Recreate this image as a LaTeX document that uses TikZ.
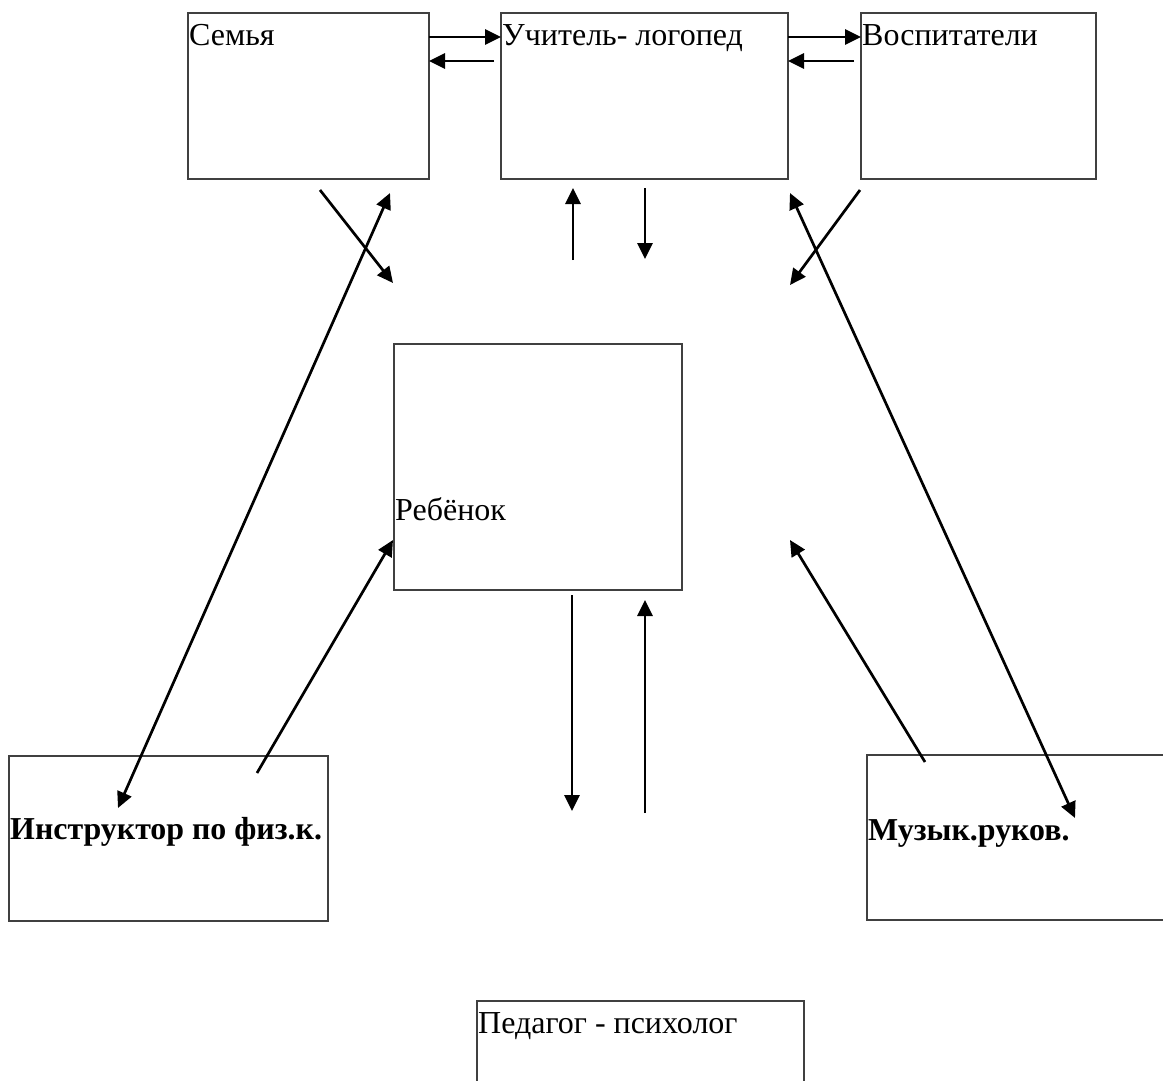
\documentclass[tikz,border=0pt]{standalone}
\usepackage{fontspec}
\setmainfont{Liberation Serif}
\usetikzlibrary{arrows.meta}
\begin{document}
\begin{tikzpicture}[x=1pt,y=-1pt,
  box/.style={draw=black!75,line width=1.2pt,rectangle,anchor=north west,inner sep=0pt,outer sep=0pt},
  lbl/.style={anchor=base west,inner sep=0pt,font=\fontsize{32}{38}\selectfont},
  blbl/.style={lbl,font=\fontsize{31.9}{38}\selectfont\bfseries},
  arr/.style={line width=2.7pt,-{Triangle[length=16pt,width=15pt]}},
  darr/.style={line width=2.7pt,{Triangle[length=16pt,width=15pt]}-{Triangle[length=16pt,width=15pt]}}]
\useasboundingbox (0,0) rectangle (1163,1080);
\clip (0,0) rectangle (1163,1080);
% boxes
\node[box,minimum width=241pt,minimum height=166pt] (fam) at (188,13) {};
\node[box,minimum width=287pt,minimum height=166pt] (log) at (501,13) {};
\node[box,minimum width=235pt,minimum height=166pt] (vos) at (861,13) {};
\node[box,minimum width=288pt,minimum height=246pt] (reb) at (394,344) {};
\node[box,minimum width=319pt,minimum height=165pt] (ins) at (9,756) {};
\node[box,minimum width=320pt,minimum height=165pt] (muz) at (867,755) {};
\node[box,minimum width=327pt,minimum height=120pt] (psy) at (477,1001) {};
% labels
\node[lbl] (tfam) at (189,45) {Семья};
\node[lbl] (tlog) at (502,45) {Учитель- логопед};
\node[lbl] (tvos) at (862,45) {Воспитатели};
\node[lbl] (treb) at (395,520) {Ребёнок};
\node[blbl] (tins) at (10,839) {Инструктор по физ.к.};
\node[blbl] (tmuz) at (868,840) {Музык.руков.};
\node[lbl] (tpsy) at (478,1033) {Педагог - психолог};
% coordinates for free arrows
\coordinate (a1s) at (429,37);  \coordinate (a1e) at (501,37);
\coordinate (a2s) at (494,61);  \coordinate (a2e) at (429,61);
\coordinate (a3s) at (788,37);  \coordinate (a3e) at (861,37);
\coordinate (a4s) at (854,61);  \coordinate (a4e) at (788,61);
\coordinate (b1s) at (320,190); \coordinate (b1e) at (393,283);
\coordinate (b2s) at (118,808); \coordinate (b2e) at (390,193);
\coordinate (b3s) at (257,773); \coordinate (b3e) at (393,540);
\coordinate (c1s) at (573,260); \coordinate (c1e) at (573,188);
\coordinate (c2s) at (645,188); \coordinate (c2e) at (645,259);
\coordinate (d1s) at (860,190); \coordinate (d1e) at (790,285);
\coordinate (d2s) at (790,193); \coordinate (d2e) at (1075,818);
\coordinate (d3s) at (925,762); \coordinate (d3e) at (790,540);
\coordinate (e1s) at (572,595); \coordinate (e1e) at (572,811);
\coordinate (e2s) at (645,813); \coordinate (e2e) at (645,600);
% arrows
\draw[arr] (a1s) -- (a1e);
\draw[arr] (a2s) -- (a2e);
\draw[arr] (a3s) -- (a3e);
\draw[arr] (a4s) -- (a4e);
\draw[arr] (b1s) -- (b1e);
\draw[darr] (b2s) -- (b2e);
\draw[arr] (b3s) -- (b3e);
\draw[arr] (c1s) -- (c1e);
\draw[arr] (c2s) -- (c2e);
\draw[arr] (d1s) -- (d1e);
\draw[darr] (d2s) -- (d2e);
\draw[arr] (d3s) -- (d3e);
\draw[arr] (e1s) -- (e1e);
\draw[arr] (e2s) -- (e2e);
\end{tikzpicture}
\end{document}
